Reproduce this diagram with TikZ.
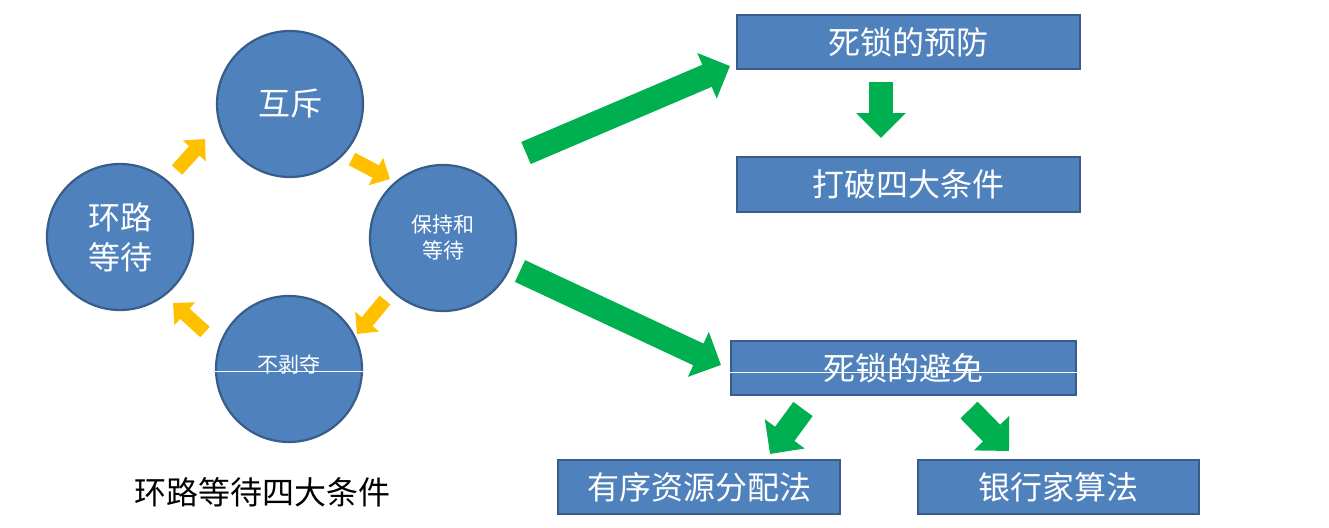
\documentclass[tikz,border=0pt]{standalone}
\usepackage{fontspec}
\newfontfamily\cjk{Noto Sans CJK SC}
\usetikzlibrary{arrows.meta}
\definecolor{fillblue}{HTML}{4F81BD}
\definecolor{edgeblue}{HTML}{385D8A}
\definecolor{arrowgreen}{HTML}{00B050}
\definecolor{arrowyellow}{HTML}{FFC000}
\begin{document}
\begin{tikzpicture}[x=1pt,y=-1pt,
  circ/.style={circle, draw=edgeblue, fill=fillblue, line width=2.2pt, minimum size=146pt, inner sep=0pt, text=white, align=center},
  bigtext/.style={font=\cjk\fontsize{32}{40}\selectfont},
  smalltext/.style={font=\cjk\fontsize{21}{26}\selectfont},
  boxnode/.style={rectangle, draw=edgeblue, fill=fillblue, line width=2.2pt, inner sep=0pt, text=white, font=\cjk\fontsize{32}{38}\selectfont},
  yarrow/.style={draw=arrowyellow, line width=14pt, -{Triangle[width=30pt,length=16pt,fill=arrowyellow]}},
  garrow/.style={draw=arrowgreen, line width=24pt, -{Triangle[width=48pt,length=25pt,fill=arrowgreen]}},
  splitline/.style={draw=white, line width=0.8pt}
]
\useasboundingbox (0,0) rectangle (1329,527);

% circles
\node[circ, bigtext] (mx) at (290,104) {互斥};
\node[circ, bigtext] (cw) at (120,237) {环路\\等待};
\node[circ, smalltext] (hw) at (443,238) {保持和\\等待};
\node[circ, minimum size=146pt] (nb) at (289,369) {};
\node[smalltext, text=white] (nbt) at (289,365) {不剥夺};
\draw[splitline] ([yshift=-2pt]nb.west) -- ([yshift=-2pt]nb.east);

% caption
\node[bigtext, text=black] (cap) at (262,492) {环路等待四大条件};

% boxes
\node[boxnode, minimum width=343pt, minimum height=54pt] (yf) at (908.5,42) {死锁的预防};
\node[boxnode, minimum width=343pt, minimum height=55pt] (dp) at (908.5,184.5) {打破四大条件};
\node[boxnode, minimum width=345pt, minimum height=54pt] (bm) at (903.5,368) {死锁的避免};
\draw[splitline] ([yshift=-4pt]bm.west) -- ([yshift=-4pt]bm.east);
\node[boxnode, minimum width=282pt, minimum height=54pt] (yx) at (699,487) {有序资源分配法};
\node[boxnode, minimum width=281pt, minimum height=54pt] (yh) at (1058.5,487) {银行家算法};

% yellow arrow coordinates
\coordinate (y1s) at (177,170); \coordinate (y1e) at (205,139);
\coordinate (y2s) at (352,159); \coordinate (y2e) at (390,179);
\coordinate (y3s) at (385,300); \coordinate (y3e) at (357,334);
\coordinate (y4s) at (205,332); \coordinate (y4e) at (173,303);
\draw[yarrow] (y1s) -- (y1e);
\draw[yarrow] (y2s) -- (y2e);
\draw[yarrow] (y3s) -- (y3e);
\draw[yarrow] (y4s) -- (y4e);

% green arrow coordinates
\coordinate (g1s) at (526,153); \coordinate (g1e) at (730,66);
\coordinate (g2s) at (520,271); \coordinate (g2e) at (721,365);
\coordinate (g3s) at (881,82);  \coordinate (g3e) at (881,138);
\coordinate (g4s) at (803,409); \coordinate (g4e) at (770,454);
\coordinate (g5s) at (969,410); \coordinate (g5e) at (1009,451);
\draw[garrow] (g1s) -- (g1e);
\draw[garrow] (g2s) -- (g2e);
\draw[garrow] (g3s) -- (g3e);
\draw[garrow] (g4s) -- (g4e);
\draw[garrow] (g5s) -- (g5e);
\end{tikzpicture}
\end{document}
